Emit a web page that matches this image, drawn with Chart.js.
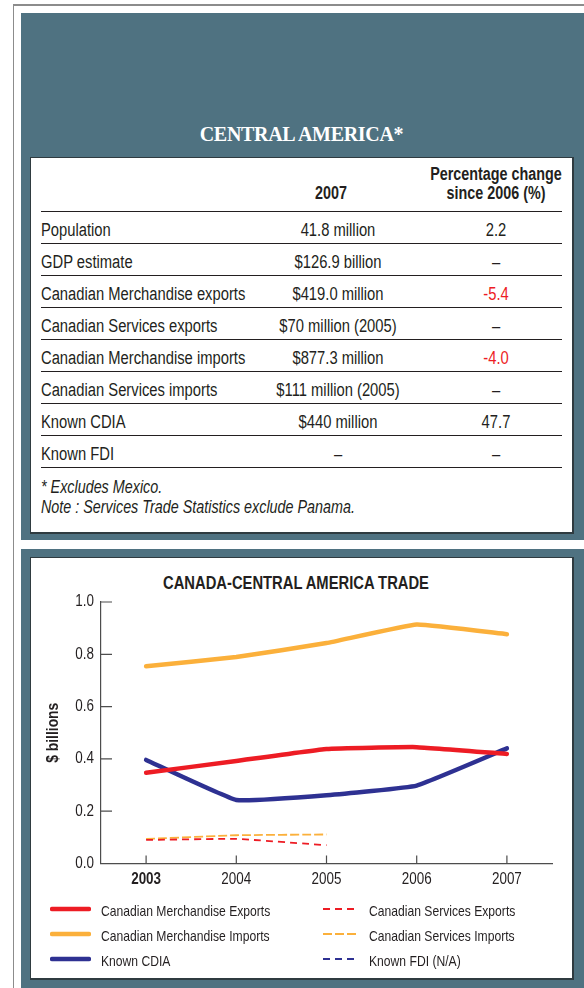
<!DOCTYPE html>
<html lang="en">
<head>
    <meta charset="UTF-8">
    <title>Central America</title>
    <script src="https://cdn.jsdelivr.net/npm/chart.js"></script>
    <style>
        body { margin: 0; width: 584px; height: 988px; position: relative; overflow: hidden; background: #fff; color: #231f20;
               font-family: "Liberation Sans", Arial, sans-serif; }
        .frame { position: absolute; left: 13px; top: 4px; width: 571px; height: 984px; border-left: 1px solid #8c8c8c; border-top: 2px solid #8c8c8c; }
        .panel { position: absolute; left: 21px; width: 563px; background: #4f7281; }
        .card { position: absolute; left: 30px; width: 541px; background: #fff; border-right: 2px solid #2f3b40; border-bottom: 2px solid #2f3b40; border-left: 1px solid #2f3b40; border-top: 1px solid #2f3b40; }
        .region-title { position: absolute; left: 30px; width: 543px; top: 123px; line-height: 26px; text-align: center; color: #fff;
                        font: bold 20px "Liberation Serif", "DejaVu Serif", serif; letter-spacing: -0.3px; }
        /* no narrow face installed, so squeeze the sans horizontally */
        .cn { transform: scaleX(0.82); transform-origin: left center; white-space: nowrap; }
        .cn.mid { transform-origin: center center; }
        .row { position: absolute; left: 41px; width: 521px; height: 32px; border-top: 1px solid #231f20; font-size: 18px; line-height: 28px; }
        .row span { position: absolute; top: 4px; }
        .row .lbl { left: 0; }
        .row .val { left: 187px; width: 220px; text-align: center; }
        .row .pct { left: 375px; width: 160px; text-align: center; }
        .neg { color: #ed1c24; }
        .hdr { position: absolute; font-weight: bold; font-size: 17.5px; line-height: 19px; text-align: center; }
        .note { position: absolute; left: 41px; font-style: italic; font-size: 17.5px; line-height: 20px; }
        .chart-title { position: absolute; left: 96px; width: 400px; top: 572px; line-height: 22px; text-align: center; font-weight: bold; font-size: 18px; }
        #tradeChart { position: absolute; left: 31px; top: 557px; }
        .leg { position: absolute; height: 24px; line-height: 24px; font-size: 14.8px; white-space: nowrap; }
        .leg svg { position: absolute; top: 8px; }
        .leg span { position: absolute; top: 2px; }
    </style>
</head>
<body>
<div class="frame"></div>
<div class="panel" style="top:13px;height:527px"></div>
<div class="panel" style="top:549px;height:439px"></div>

<div class="card" style="top:157px;height:374px"></div>
<div class="region-title">CENTRAL AMERICA*</div>

<div class="hdr cn mid" style="left:281px;width:100px;top:184px">2007</div>
<div class="hdr cn mid" style="left:396px;width:200px;top:165px">Percentage change<br>since 2006 (%)</div>

<div class="row" style="top:211px"><span class="lbl cn">Population</span><span class="val cn mid">41.8 million</span><span class="pct cn mid">2.2</span></div>
<div class="row" style="top:243px"><span class="lbl cn">GDP estimate</span><span class="val cn mid">$126.9 billion</span><span class="pct cn mid">–</span></div>
<div class="row" style="top:275px"><span class="lbl cn">Canadian Merchandise exports</span><span class="val cn mid">$419.0 million</span><span class="pct cn mid neg">-5.4</span></div>
<div class="row" style="top:307px"><span class="lbl cn">Canadian Services exports</span><span class="val cn mid">$70 million (2005)</span><span class="pct cn mid">–</span></div>
<div class="row" style="top:339px"><span class="lbl cn">Canadian Merchandise imports</span><span class="val cn mid">$877.3 million</span><span class="pct cn mid neg">-4.0</span></div>
<div class="row" style="top:371px"><span class="lbl cn">Canadian Services imports</span><span class="val cn mid">$111 million (2005)</span><span class="pct cn mid">–</span></div>
<div class="row" style="top:403px"><span class="lbl cn">Known CDIA</span><span class="val cn mid">$440 million</span><span class="pct cn mid">47.7</span></div>
<div class="row" style="top:435px"><span class="lbl cn">Known FDI</span><span class="val cn mid">–</span><span class="pct cn mid">–</span></div>
<div class="row" style="top:467px;height:1px"></div>

<div class="note cn" style="top:477px">* Excludes Mexico.</div>
<div class="note cn" style="top:497px">Note : Services Trade Statistics exclude Panama.</div>

<div class="card" style="top:557px;height:420px"></div>
<div class="chart-title cn mid">CANADA-CENTRAL AMERICA TRADE</div>
<canvas id="tradeChart" width="541" height="345"></canvas>
<div id="legend"></div>

<script>
    // values in $ billions
    const years = ['2003', '2004', '2005', '2006', '2007'];
    const merchExports = [0.347, 0.392, 0.438, 0.445, 0.419];
    const merchImports = [0.754, 0.790, 0.843, 0.914, 0.877];
    const cdia = [0.396, 0.243, 0.261, 0.298, 0.440];
    const servicesExports = [0.090, 0.094, 0.070, null, null];
    const servicesImports = [0.094, 0.108, 0.111, null, null];
    const fdi = [null, null, null, null, null];
    const yMin = 0, yMax = 1, yStep = 0.2;

    const RED = '#ed1c24', ORANGE = '#fbb03b', NAVY = '#2e3192';
    const TEXT = '#231f20', AXIS = '#4d4d4d';
    const CONDENSE = 0.84;

    function solid(label, data, color) {
        return { label, data, borderColor: color, backgroundColor: color, borderWidth: 4.5,
                 pointRadius: 0, borderCapStyle: 'round', borderJoinStyle: 'round', tension: 0.1 };
    }
    function dashed(label, data, color, dash) {
        return { label, data, borderColor: color, backgroundColor: color, borderWidth: 1.8,
                 borderDash: dash, pointRadius: 0, tension: 0.1 };
    }

    const innerTicks = {
        id: 'innerTicks',
        beforeDatasetsDraw(chart) {
            const { ctx, chartArea, scales: { x, y } } = chart;
            ctx.save();
            ctx.strokeStyle = AXIS;
            ctx.lineWidth = 1.2;
            ctx.beginPath();
            y.ticks.forEach((t, i) => {
                const py = y.getPixelForTick(i);
                ctx.moveTo(chartArea.left, py);
                ctx.lineTo(chartArea.left + 11, py);
            });
            x.ticks.forEach((t, i) => {
                const px = x.getPixelForTick(i);
                ctx.moveTo(px, chartArea.bottom);
                ctx.lineTo(px, chartArea.bottom - 8);
            });
            ctx.stroke();
            ctx.restore();
        }
    };

    // same squeeze for the canvas text (tick labels, axis title)
    const canvas = document.getElementById('tradeChart');
    const ctx2d = canvas.getContext('2d');
    const rawFillText = ctx2d.fillText;
    ctx2d.fillText = function (text, x, y) {
        this.save();
        this.translate(x, y);
        this.scale(CONDENSE, 1);
        rawFillText.call(this, text, 0, 0);
        this.restore();
    };

    Chart.defaults.font.family = '"Liberation Sans", Arial, sans-serif';
    Chart.defaults.color = TEXT;

    const chart = new Chart(canvas, {
        type: 'line',
        data: {
            labels: years,
            datasets: [
                solid('Canadian Merchandise Exports', merchExports, RED),
                solid('Canadian Merchandise Imports', merchImports, ORANGE),
                solid('Known CDIA', cdia, NAVY),
                dashed('Canadian Services Exports', servicesExports, RED, [7, 5]),
                dashed('Canadian Services Imports', servicesImports, ORANGE, [9, 3]),
                dashed('Known FDI (N/A)', fdi, NAVY, [7, 5])
            ]
        },
        options: {
            responsive: false,
            animation: false,
            devicePixelRatio: 1,
            layout: { padding: { left: 0, right: 20, top: 45, bottom: 0 } },
            plugins: { legend: { display: false }, tooltip: { enabled: false } },
            scales: {
                x: {
                    offset: true,
                    grid: { display: false, drawTicks: false },
                    border: { color: AXIS, width: 1.2 },
                    ticks: {
                        padding: 6,
                        color: TEXT,
                        font: ctx => ({ size: 16, weight: ctx.index === 0 ? 'bold' : 'normal' })
                    },
                    afterFit: s => { s.height = 38.5; }
                },
                y: {
                    min: yMin, max: yMax,
                    grid: { display: false, drawTicks: false },
                    border: { color: AXIS, width: 1.2 },
                    ticks: { stepSize: yStep, padding: 7, color: TEXT, font: { size: 16 }, callback: v => v.toFixed(1) },
                    title: { display: true, text: '$ billions', color: TEXT, font: { size: 16.5, weight: 'bold' }, padding: { top: 13, bottom: 0 } },
                    afterFit: s => { s.width = 70; }
                }
            }
        },
        plugins: [innerTicks]
    });

    // two-column legend built from the chart's datasets
    const legendPos = [
        { x: 50, w: 41, t: 101, y: 897 }, { x: 50, w: 41, t: 101, y: 922 }, { x: 50, w: 41, t: 101, y: 947 },
        { x: 323, w: 35, t: 369, y: 897 }, { x: 323, w: 35, t: 369, y: 922 }, { x: 323, w: 35, t: 369, y: 947 }
    ];
    const legend = document.getElementById('legend');
    chart.data.datasets.forEach((ds, i) => {
        const p = legendPos[i];
        const dash = ds.borderDash ? `stroke-dasharray="${ds.borderDash.join(' ')}"` : 'stroke-linecap="round"';
        const inset = ds.borderDash ? 0 : 2;
        const div = document.createElement('div');
        div.className = 'leg';
        div.style.left = p.x + 'px';
        div.style.top = p.y + 'px';
        div.innerHTML = `
            <svg width="${p.w}" height="8" style="left:0"><line x1="${inset}" y1="4" x2="${p.w - inset}" y2="4" stroke="${ds.borderColor}" stroke-width="${ds.borderWidth}" ${dash}/></svg>
            <span class="cn" style="left:${p.t - p.x}px">${ds.label}</span>`;
        legend.appendChild(div);
    });
</script>
</body>
</html>
